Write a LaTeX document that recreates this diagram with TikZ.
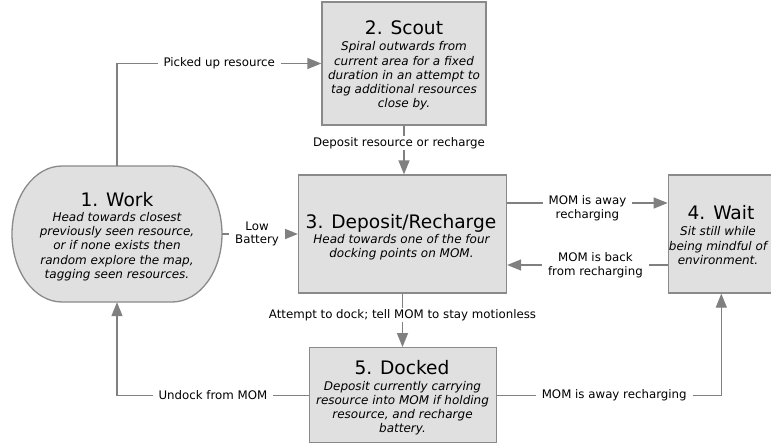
\documentclass[tikz,border=0pt]{standalone}
\usepackage{fontspec}
\setmainfont{DejaVu Sans}
\usetikzlibrary{arrows.meta}
\definecolor{boxfill}{HTML}{E0E0E0}
\definecolor{boxline}{HTML}{8A8A8A}
\definecolor{conncol}{HTML}{808080}
\newcommand{\ttlfont}{\fontsize{18.6}{21}\selectfont}
\newcommand{\bdyfont}{\fontsize{12}{14.2}\selectfont\itshape}
\newcommand{\lblfont}{\fontsize{11.8}{13.5}\selectfont}
\begin{document}
\begin{tikzpicture}[x=1pt,y=-1pt,
  statebox/.style={draw=boxline, fill=boxfill, line width=1.3pt, inner sep=0pt},
  ttl/.style={font=\ttlfont, anchor=base, inner sep=0pt},
  bdy/.style={font=\bdyfont, align=center, anchor=north, inner sep=0pt},
  conn/.style={draw=conncol, line width=1.3pt, -{Triangle[length=14pt,width=11pt]}},
  lbl/.style={font=\lblfont, fill=white, align=center, inner xsep=6pt, inner ysep=1pt}]
\useasboundingbox (0,0) rectangle (771,444);
\fill[white] (0,0) rectangle (771,444);

% Work (stadium)
\node[minimum width=210pt, minimum height=136pt, inner sep=0pt] (work) at (117,234) {};
\draw[draw=boxline, fill=boxfill, line width=1.3pt]
  (62,166) -- (172,166) .. controls (199.6,166) and (222,196.4) .. (222,234)
  .. controls (222,271.6) and (199.6,302) .. (172,302) -- (62,302)
  .. controls (34.4,302) and (12,271.6) .. (12,234)
  .. controls (12,196.4) and (34.4,166) .. (62,166) -- cycle;

\node[statebox, minimum width=164pt, minimum height=123pt] (scout) at (404,63.5) {};
\node[statebox, minimum width=208pt, minimum height=118pt] (deposit) at (402.5,234) {};
\node[statebox, minimum width=106pt, minimum height=118pt] (wait) at (721.3,234) {};
\node[statebox, minimum width=187pt, minimum height=95pt] (docked) at (403,395.2) {};

% texts
\node[ttl] (work-t) at (117,206) {1. Work};
\node[bdy] (work-b) at (117,212.2) {Head towards closest\\previously seen resource,\\or if none exists then\\random explore the map,\\tagging seen resources.};
\node[ttl] (scout-t) at (404,35) {2. Scout};
\node[bdy] (scout-b) at (404,41.6) {Spiral outwards from\\current area for a fixed\\duration in an attempt to\\tag additional resources\\close by.};
\node[ttl] (deposit-t) at (401,228.3) {3. Deposit/Recharge};
\node[bdy] (deposit-b) at (401.5,233.9) {Head towards one of the four\\docking points on MOM.};
\node[ttl] (wait-t) at (721,219) {4. Wait};
\node[bdy] (wait-b) at (718,226.6) {Sit still while\\being mindful of\\environment.};
\node[ttl] (docked-t) at (402,374) {5. Docked};
\node[bdy] (docked-b) at (402.5,380.9) {Deposit currently carrying\\resource into MOM if holding\\resource, and recharge\\battery.};

% connectors
\draw[conn] (work.north) |- node[lbl, pos=0.75] {Picked up resource} (scout.west);
\draw[conn] (scout.south) -- node[lbl, xshift=-5pt, yshift=7pt] {Deposit resource or recharge} (scout.south |- deposit.north);
\draw[conn] (work.east) -- node[lbl, xshift=-3pt] {Low\\Battery} (deposit.west);
\draw[conn] ([yshift=31pt]deposit.east) -- node[lbl, yshift=-5pt] {MOM is away\\recharging} ([yshift=31pt]wait.west);
\draw[conn] ([yshift=-31pt]wait.west) -- node[lbl, xshift=8pt] {MOM is back\\from recharging} ([yshift=-31pt]deposit.east);
\draw[conn] (deposit.south) -- node[lbl, yshift=5.5pt] {Attempt to dock; tell MOM to stay motionless} (deposit.south |- docked.north);
\draw[conn] (docked.west) -| node[lbl, pos=0.25] {Undock from MOM} (work.south);
\draw[conn] (docked.east) -| node[lbl, pos=0.25, xshift=5pt] {MOM is away recharging} (wait.south);
\end{tikzpicture}
\end{document}
